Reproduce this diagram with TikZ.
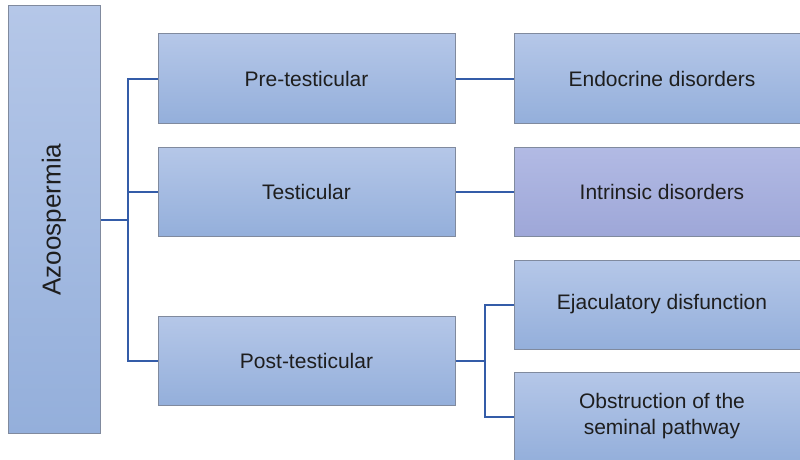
\documentclass[tikz,border=0pt]{standalone}
\usepackage{fontspec}
\setmainfont{Liberation Sans}
\usetikzlibrary{shadows}
\definecolor{boxtop}{RGB}{181,199,232}
\definecolor{boxbot}{RGB}{148,175,219}
\definecolor{purtop}{RGB}{178,186,228}
\definecolor{purbot}{RGB}{158,167,216}
\definecolor{boxline}{RGB}{128,138,158}
\definecolor{linkcol}{RGB}{52,92,168}
\definecolor{txt}{RGB}{30,30,30}
\begin{document}
\begin{tikzpicture}[x=1pt,y=-1pt,
  box/.style={rectangle,draw=boxline,line width=1pt,top color=boxtop,bottom color=boxbot,
    minimum width=297pt,minimum height=89pt,inner sep=0pt,align=center,text=txt,
    font=\fontsize{21}{26}\selectfont,
    drop shadow={opacity=0.18,shadow xshift=1pt,shadow yshift=-1pt}},
  link/.style={draw=linkcol,line width=2pt}]
  \useasboundingbox (0,0) rectangle (800,460);
  % root
  \node[box,minimum width=92pt,minimum height=427pt,font=\fontsize{26}{30}\selectfont] (azoo) at (54,219.5)
    {\rotatebox{90}{Azoospermia}};
  % causes
  \node[box] (pre) at (306.5,78.5) {Pre-testicular};
  \node[box] (test) at (306.5,191.5) {Testicular};
  \node[box] (post) at (306.5,360.5) {Post-testicular};
  % details
  \node[box,minimum width=296pt] (endo) at (662,78.5) {Endocrine disorders};
  \node[box,minimum width=296pt,top color=purtop,bottom color=purbot] (intr) at (662,191.5) {Intrinsic disorders};
  \node[box,minimum width=296pt] (ejac) at (662,304.5) {Ejaculatory disfunction};
  \node[box,minimum width=296pt] (obst) at (662,416.5) {Obstruction of the\\seminal pathway};
  % connectors
  \coordinate (j1) at (128,219.5);
  \coordinate (j2) at (485,360.5);
  \draw[link] (azoo.east) -- (j1);
  \draw[link] (pre.west) -| (j1) |- (post.west);
  \draw[link] (j1) |- (test.west);
  \draw[link] (pre) -- (endo);
  \draw[link] (test) -- (intr);
  \draw[link] (post.east) -- (j2);
  \draw[link] (ejac.west) -| (j2) |- (obst.west);
\end{tikzpicture}
\end{document}
